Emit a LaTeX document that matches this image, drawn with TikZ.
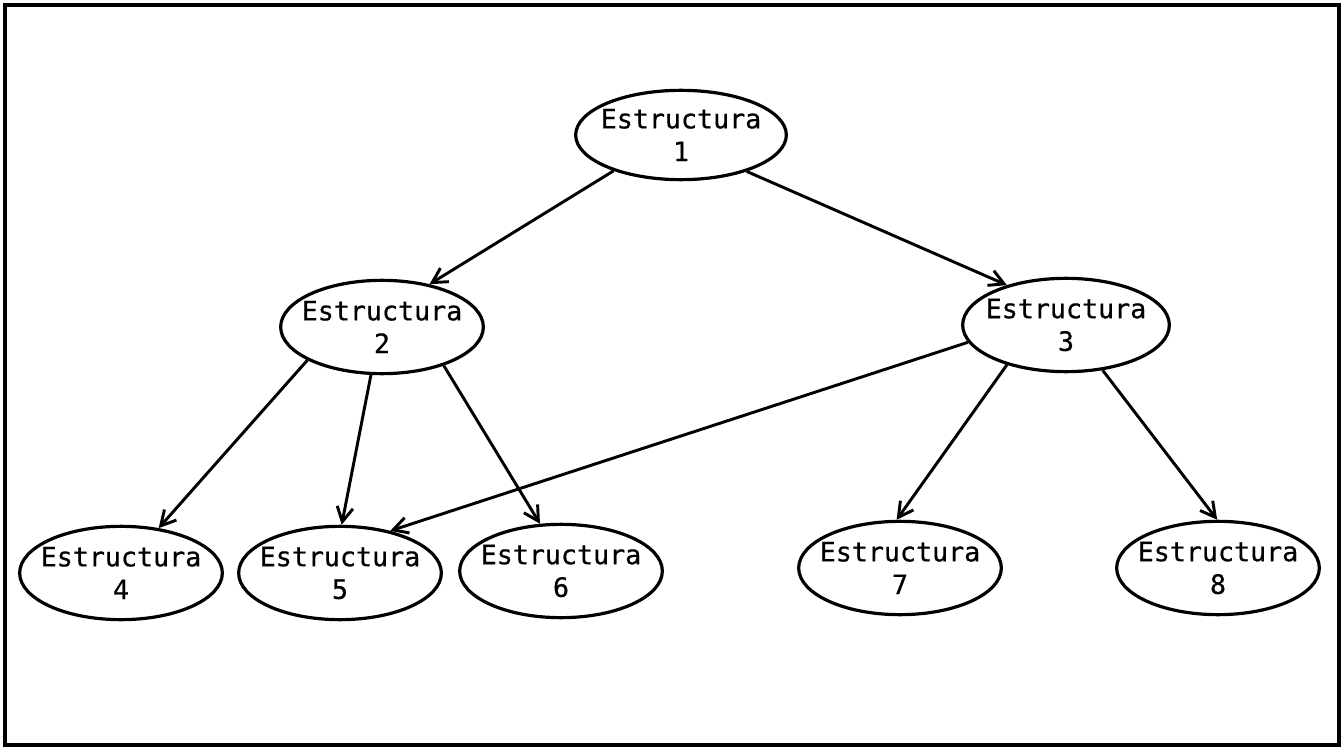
\documentclass[tikz,border=0pt]{standalone}
\usepackage{fontspec}
\newfontfamily\plotfont[FakeBold=0.6]{DejaVu Sans Mono}
\usetikzlibrary{shapes.geometric,arrows.meta}
\begin{document}
\begin{tikzpicture}[x=0.75pt,y=-0.75pt,
  estr/.style={draw,ellipse,line width=2.4pt,inner sep=0pt,
    minimum width=152pt,minimum height=70pt},
  lbl/.style={align=center,inner sep=0pt,
    font=\plotfont\fontsize{20pt}{24.5pt}\selectfont},
  link/.style={line width=2.2pt,-{Straight Barb[length=11pt,width=12pt,line width=2.2pt]}}]
\useasboundingbox (0,0) rectangle (1344,755);
\draw[line width=3pt] (5,5) rectangle (1339,745);

% structure ellipses
\node[estr,minimum width=158pt,minimum height=67pt] (e1) at (681,135) {};
\node[estr] (e2) at (382,327) {};
\node[estr,minimum width=155pt] (e3) at (1066,325) {};
\node[estr] (e4) at (121,573) {};
\node[estr] (e5) at (340,573) {};
\node[estr] (e6) at (561,571) {};
\node[estr] (e7) at (900,568) {};
\node[estr] (e8) at (1218,568) {};

% labels
\node[lbl] (t1) at (e1) {Estructura\\1};
\node[lbl] (t2) at (e2) {Estructura\\2};
\node[lbl] (t3) at (e3) {Estructura\\3};
\node[lbl] (t4) at (e4) {Estructura\\4};
\node[lbl] (t5) at (e5) {Estructura\\5};
\node[lbl] (t6) at (e6) {Estructura\\6};
\node[lbl] (t7) at (e7) {Estructura\\7};
\node[lbl] (t8) at (e8) {Estructura\\8};

% dependencies
\draw[link] (e1.208) -- (e2.42);
\draw[link] (e1.331) -- (e3.146);
\draw[link] (e2.204) -- (e4.50);
\draw[link] (e2.257) -- (e5.88);
\draw[link] (e2.328) -- (e6.114);
\draw[link] (e3.190) -- (e5.40);
\draw[link] (e3.214) -- (e7.94);
\draw[link] (e3.309) -- (e8.91);
\end{tikzpicture}
\end{document}
